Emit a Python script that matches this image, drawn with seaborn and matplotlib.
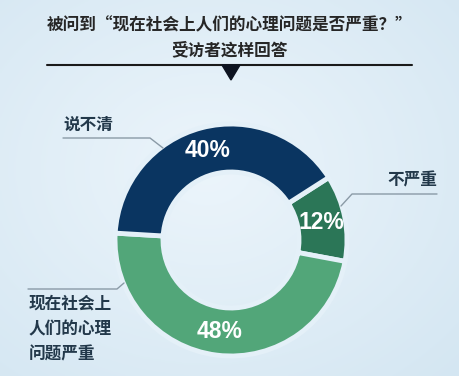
import numpy as np
import matplotlib
matplotlib.use("Agg")
import matplotlib.pyplot as plt
import seaborn as sns

# ---- data ----
categories = ["不严重", "现在社会上\n人们的心理\n问题严重", "说不清"]
values = [12, 48, 40]
pct_labels = ["12%", "48%", "40%"]
colors = ["#2b7657", "#52a679", "#0a3561"]

title_line1 = "被问到“现在社会上人们的心理问题是否严重？”"
title_line2 = "受访者这样回答"

sns.set_theme(style="white")
plt.rcParams['font.family'] = ['Noto Sans CJK SC', 'DejaVu Sans']

W, H = 460, 376
fig = plt.figure(figsize=(W / 100, H / 100), dpi=100)
ax = fig.add_axes([0, 0, 1, 1])
ax.set_xlim(0, W)
ax.set_ylim(0, H)
ax.set_aspect('equal')
ax.axis('off')

def Y(y):
    return H - y

# background gradient
xx, yy = np.meshgrid(np.linspace(0, 1, 200), np.linspace(0, 1, 200))
d = np.sqrt((xx - 0.45) ** 2 + (yy - 0.45) ** 2)
c0 = np.array([0.925, 0.96, 0.985])
c1 = np.array([0.835, 0.905, 0.95])
img = c0[None, None, :] + (c1 - c0)[None, None, :] * np.clip(d / 0.75, 0, 1)[:, :, None]
ax.imshow(img, extent=[0, W, 0, H], origin='upper', zorder=0, aspect='auto')
bg = "#e4f0f8"

# donut
cx, cy, R, w = 231, Y(240), 116, 48
wedges, _ = ax.pie(values, colors=colors, startangle=32.6, counterclock=False,
                   center=(cx, cy), radius=R, frame=True,
                   wedgeprops=dict(width=w, edgecolor=bg, linewidth=3.5))
ax.set_xlim(0, W)
ax.set_ylim(0, H)
ax.axis('off')

for wdg, lab in zip(wedges, pct_labels):
    ang = np.deg2rad((wdg.theta1 + wdg.theta2) / 2)
    rr = R - w / 2
    ax.text(cx + rr * np.cos(ang), cy + rr * np.sin(ang), lab, color='white',
            fontsize=16.5, fontweight='bold', family=['Liberation Sans', 'DejaVu Sans'],
            ha='center', va='center', zorder=5)

# title
tc = "#262626"
ax.text(230, Y(25), title_line1, ha='center', va='center', fontsize=12,
        color=tc, fontweight='bold')
ax.text(230, Y(50), title_line2, ha='center', va='center', fontsize=12,
        color=tc, fontweight='bold')
ax.plot([47, 412], [Y(65), Y(65)], color='#1a1a1a', lw=1.5, zorder=3)
ax.fill([222, 240, 231], [Y(65), Y(65), Y(80)], color='#0d1320', zorder=3)

# category labels and leader lines
lc = "#22384a"
gc = "#8a9aa6"
ax.text(63, Y(125), categories[2], ha='left', va='center', fontsize=12,
        color=lc, fontweight='bold')
ax.plot([63, 150, 163], [Y(138), Y(138), Y(148)], color=gc, lw=1, zorder=2)

ax.text(437, Y(180), categories[0], ha='right', va='center', fontsize=12,
        color=lc, fontweight='bold')
ax.plot([437, 352, 341], [Y(194), Y(194), Y(206)], color=gc, lw=1, zorder=2)

ax.text(29, Y(329), categories[1], ha='left', va='center', fontsize=12,
        color=lc, fontweight='bold', linespacing=1.55)
ax.plot([28, 117, 124], [Y(289), Y(289), Y(283)], color=gc, lw=1, zorder=2)

fig.savefig("out.png", dpi=100)
